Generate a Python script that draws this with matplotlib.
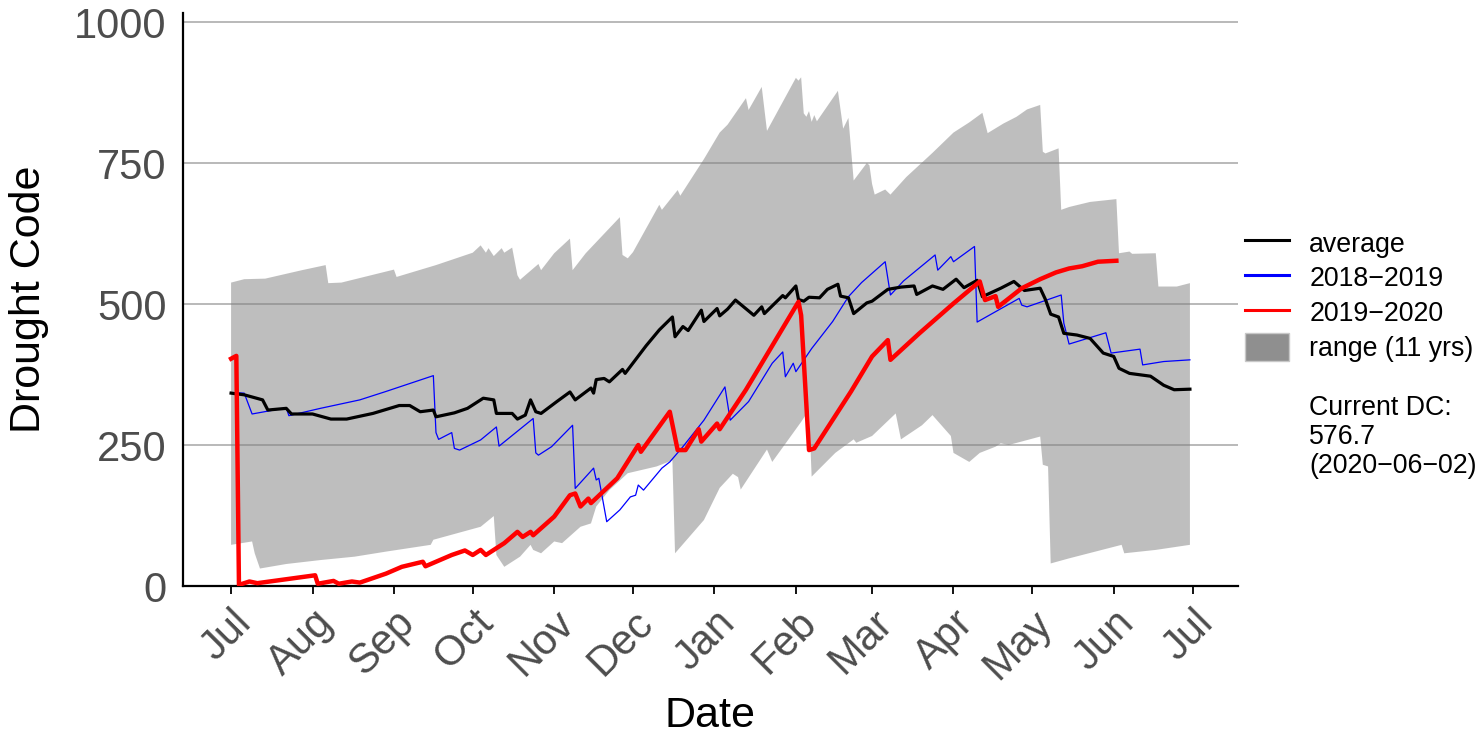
import numpy as np
import pandas as pd
import matplotlib
matplotlib.use("Agg")
import matplotlib.pyplot as plt
from matplotlib.lines import Line2D
from matplotlib.patches import Patch

plt.rcParams['font.family'] = ['Liberation Sans', 'DejaVu Sans']

# season starts 2019-07-01, x values are days since then
start = pd.Timestamp('2019-07-01')

# range of the 11 years (upper and lower edge)
hi_days = [0, 5, 13, 27, 36, 37, 42, 62, 63, 78, 92, 95, 97, 98, 100, 103, 104, 107, 109, 110,
           117, 118, 123, 129, 130, 135, 148, 149, 151, 153, 163, 164, 170, 171, 180, 186, 189,
           196, 197, 202, 204, 215, 216, 217, 218, 219, 220, 221, 222, 223, 231, 233, 235, 237,
           242, 243, 244, 245, 249, 251, 257, 267, 275, 281, 286, 288, 294, 299, 303, 308, 309,
           310, 315, 316, 319, 327, 337, 338, 342, 343, 352, 353, 360, 365]
hi_vals = [538, 544, 545, 560, 569, 537, 538, 561, 548, 569, 591, 604, 591, 599, 585, 599, 591, 600, 551, 543,
           571, 560, 590, 616, 560, 590, 654, 587, 581, 592, 676, 667, 702, 692, 757, 804, 818,
           865, 844, 885, 807, 901, 896, 902, 838, 832, 842, 823, 835, 824, 878, 811, 830, 719,
           750, 746, 713, 694, 703, 694, 725, 768, 804, 822, 839, 803, 820, 832, 845, 853, 770,
           767, 776, 667, 672, 681, 686, 590, 593, 589, 590, 531, 531, 537]

lo_days = [0, 8, 9, 11, 21, 34, 47, 59, 76, 77, 95, 100, 101, 104, 110, 114, 115, 118, 123, 126,
           133, 137, 139, 144, 151, 162, 168, 169, 180, 186, 191, 193, 194, 204, 206, 217, 220, 221,
           230, 237, 238, 244, 253, 255, 263, 267, 274, 275, 281, 285, 291, 293, 296, 308, 309, 311,
           312, 319, 334, 339, 340, 352, 365]
lo_vals = [73, 79, 58, 31, 39, 46, 52, 61, 73, 82, 105, 124, 55, 34, 52, 73, 64, 58, 79, 76,
           105, 111, 141, 170, 200, 212, 223, 58, 117, 174, 199, 193, 171, 242, 220, 291, 312, 194,
           236, 260, 254, 266, 306, 260, 285, 303, 266, 236, 220, 236, 247, 253, 250, 265, 215, 212,
           40, 49, 67, 73, 58, 64, 73]

avg_days = [0, 5, 12, 14, 21, 23, 31, 38, 44, 54, 64, 68, 72, 77, 78, 85, 90, 96, 100, 101, 107,
            109, 112, 114, 116, 118, 124, 129, 131, 137, 138, 139, 142, 144, 149, 150, 158, 163,
            168, 169, 172, 174, 179, 180, 185, 186, 189, 192, 199, 202, 203, 210, 211, 215, 216,
            218, 220, 224, 227, 231, 232, 235, 237, 242, 244, 250, 255, 260, 261, 267, 271, 276,
            279, 284, 286, 293, 298, 302, 308, 310, 312, 315, 317, 322, 327, 332, 336, 338, 342,
            350, 355, 359, 365]
avg_vals = [342, 339, 330, 312, 315, 305, 305, 296, 296, 306, 320, 320, 309, 312, 300, 307, 315, 333, 330, 306, 306,
            296, 303, 330, 309, 306, 327, 344, 330, 351, 342, 366, 368, 362, 384, 377, 426, 454,
            477, 442, 460, 453, 489, 469, 492, 479, 491, 507, 480, 495, 483, 515, 511, 532, 508,
            505, 512, 511, 526, 535, 514, 511, 483, 502, 505, 526, 530, 532, 517, 532, 526, 544,
            529, 542, 513, 528, 540, 524, 528, 508, 482, 477, 448, 445, 439, 413, 407, 386, 377,
            372, 356, 348, 349]

y1819_days = [0, 5, 8, 21, 22, 34, 49, 59, 77, 78, 79, 84, 85, 87, 95, 101, 102, 115, 116, 117,
              122, 130, 131, 138, 139, 140, 143, 148, 152, 154, 155, 157, 164, 167, 172, 180, 188,
              190, 197, 206, 210, 211, 214, 215, 221, 229, 235, 240, 249, 251, 256, 268, 269, 274,
              275, 283, 284, 300, 301, 303, 316, 317, 319, 333, 335, 346, 347, 355, 365]
y1819_vals = [343, 342, 305, 316, 302, 315, 330, 345, 373, 272, 260, 272, 244, 241, 259, 282, 248, 297, 236, 232,
              247, 285, 173, 209, 188, 191, 114, 135, 158, 161, 179, 170, 209, 220, 247, 294, 353,
              294, 327, 395, 415, 371, 395, 380, 421, 469, 513, 538, 575, 516, 541, 587, 560, 584,
              575, 602, 468, 510, 498, 495, 516, 466, 429, 449, 413, 420, 392, 398, 401]

y1920_days = [0, 2, 3, 7, 10, 21, 32, 33, 39, 41, 46, 49, 59, 65, 73, 74, 84, 89, 92, 95, 97,
              104, 109, 111, 114, 115, 123, 129, 131, 133, 136, 137, 147, 155, 156, 167, 170, 173,
              178, 179, 185, 186, 196, 216, 217, 220, 222, 236, 244, 250, 251, 262, 275, 285, 287,
              291, 292, 301, 308, 314, 319, 324, 330, 337]
y1920_vals = [403, 408, 2, 8, 5, 12, 19, 4, 9, 4, 8, 6, 22, 34, 43, 35, 55, 63, 55, 64, 55,
              76, 96, 87, 96, 90, 123, 161, 164, 141, 155, 147, 191, 250, 238, 309, 241, 241,
              278, 256, 288, 278, 348, 504, 480, 241, 244, 345, 407, 436, 401, 448, 501, 540, 507,
              514, 495, 528, 544, 556, 563, 567, 575, 576.7]

current_dc = 576.7
current_date = '2020-06-02'


def to_dates(days):
    return (start + pd.to_timedelta(days, unit='D')).values


fig = plt.figure(figsize=(14.79, 7.38), dpi=100)
ax = fig.add_axes([183 / 1479, 1 - 586 / 738, (1238 - 183) / 1479, (586 - 13) / 738])

# ribbon as a polygon: upper edge forward, lower edge back
rx = np.concatenate([to_dates(hi_days), to_dates(lo_days)[::-1]])
ry = np.concatenate([hi_vals, lo_vals[::-1]])
ax.fill(rx, ry, color='#7f7f7f', alpha=0.5, lw=0, zorder=2)

ax.plot(to_dates(avg_days), avg_vals, color='black', lw=2.3, zorder=4)
ax.plot(to_dates(y1819_days), y1819_vals, color='blue', lw=0.9, zorder=3)
ax.plot(to_dates(y1920_days), y1920_vals, color='red', lw=3.2, zorder=5)

ax.set_ylim(0, 1016)
ax.set_xlim(start - pd.Timedelta(days=18.3), start + pd.Timedelta(days=383.3))
ax.set_yticks([0, 250, 500, 750, 1000])
ax.yaxis.grid(True, color='#b3b3b3', lw=1.3, zorder=1)
ax.set_axisbelow(True)

months = pd.date_range('2019-07-01', '2020-07-01', freq='MS')
ax.set_xticks(months)
ax.set_xticklabels([m.strftime('%b') for m in months], rotation=45, ha='right',
                   rotation_mode='anchor')

for s in ['top', 'right']:
    ax.spines[s].set_visible(False)
for s in ['left', 'bottom']:
    ax.spines[s].set_linewidth(1.6)
ax.tick_params(axis='y', length=0, pad=12, labelsize=30, labelcolor='#4d4d4d')
ax.tick_params(axis='x', length=6, width=1.3, pad=6, labelsize=30, labelcolor='#4d4d4d')

ax.set_xlabel('Date', fontsize=31, labelpad=7)
ax.set_ylabel('Drought Code', fontsize=31, labelpad=18)

handles = [Line2D([], [], color='black', lw=2.2),
           Line2D([], [], color='blue', lw=2.2),
           Line2D([], [], color='red', lw=2.2),
           Patch(facecolor='#8f8f8f', edgecolor='#c8c8c8', lw=1)]
labels = ['average', '2018\u22122019', '2019\u22122020', 'range (11 yrs)']
ax.legend(handles, labels, loc='upper left', bbox_to_anchor=(1245 / 1479, 1 - 229 / 738),
          bbox_transform=fig.transFigure, frameon=False, fontsize=19.3,
          handlelength=1.65, handleheight=1.2, handletextpad=0.75, labelspacing=0.22,
          borderaxespad=0, borderpad=0)

fig.text(1309 / 1479, 1 - 395 / 738, 'Current DC:\n%.1f\n(%s)' % (current_dc, current_date.replace('-', '\u2212')),
         fontsize=19.3, va='top', ha='left', linespacing=1.15)

fig.savefig('out.png', dpi=100)
